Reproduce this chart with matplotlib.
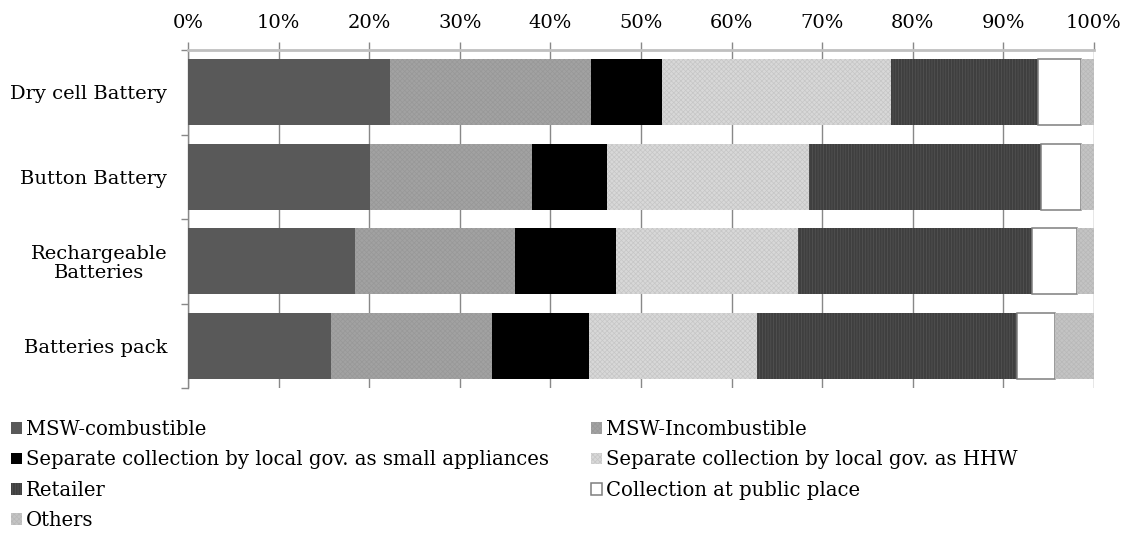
import matplotlib
matplotlib.use("Agg")
import matplotlib.pyplot as plt
from matplotlib.patches import Patch
from matplotlib.ticker import FixedLocator, PercentFormatter
import numpy as np

plt.rcParams['font.family'] = ['DejaVu Serif']
plt.rcParams['hatch.linewidth'] = 0.5

categories = ["Dry cell Battery", "Button Battery", "Rechargeable\nBatteries", "Batteries pack"]

series_names = [
    "MSW-combustible",
    "MSW-Incombustible",
    "Separate collection by local gov. as small appliances",
    "Separate collection by local gov. as HHW",
    "Retailer",
    "Collection at public place",
    "Others",
]

msw_combustible = [22.3, 20.1, 18.4, 15.8]
msw_incombustible = [22.2, 17.9, 17.7, 17.8]
small_appliances = [7.8, 8.2, 11.1, 10.7]
hhw = [25.3, 22.3, 20.1, 18.5]
retailer = [16.2, 25.6, 25.9, 28.7]
public_place = [4.8, 4.5, 4.9, 4.2]
others = [1.4, 1.4, 1.9, 4.3]

series_values = [msw_combustible, msw_incombustible, small_appliances, hhw,
                 retailer, public_place, others]

# (facecolor, hatch colour / edge, hatch, edge linewidth)
styles = [
    ("#595959", "#595959", None, 0.0),
    ("#a2a2a2", "#989898", "xxxxxxx", 0.0),
    ("#000000", "#000000", None, 0.0),
    ("#d8d8d8", "#c6c6c6", "xxxxxxx", 0.0),
    ("#3f3f3f", "#555555", "||||||", 0.0),
    ("#ffffff", "#7f7f7f", None, 1.1),
    ("#c4c4c4", "#b8b8b8", "xxxxxxx", 0.0),
]

fig = plt.figure(figsize=(11.29, 5.39), dpi=100)
ax = fig.add_axes([188 / 1129, 1 - 388 / 539, (1094 - 188) / 1129, (388 - 50) / 539])

y = np.arange(len(categories))
left = np.zeros(len(categories))
handles = []
for name, vals, (fc, ec, hatch, lw) in zip(series_names, series_values, styles):
    vals = np.array(vals)
    ax.barh(y, vals, left=left, height=0.78, color=fc, edgecolor=ec,
            hatch=hatch, linewidth=lw, zorder=3)
    left += vals
    handles.append(Patch(facecolor=fc, edgecolor=ec if lw > 0 or hatch else fc,
                         hatch=hatch, linewidth=lw if lw > 0 else 0.0, label=name))

ax.set_xlim(0, 100)
ax.set_ylim(len(categories) - 0.5, -0.5)

ax.xaxis.tick_top()
ax.set_xticks(np.arange(0, 101, 10))
ax.xaxis.set_major_formatter(PercentFormatter(decimals=0))
ax.tick_params(axis="x", which="major", length=6, width=1, color="#888888",
               pad=7, labelsize=14)
ax.grid(axis="x", color="#888888", linewidth=1, zorder=0)
ax.set_axisbelow(True)

ax.set_yticks(y)
ax.set_yticklabels(categories, fontsize=14, linespacing=1.05)
for lbl in ax.get_yticklabels():
    lbl.set_multialignment("center")
ax.tick_params(axis="y", which="major", length=0, pad=15)
ax.yaxis.set_minor_locator(FixedLocator(np.arange(-0.5, len(categories), 1.0)))
ax.tick_params(axis="y", which="minor", length=5, width=1, color="#888888")

for side in ("right", "bottom"):
    ax.spines[side].set_visible(False)
ax.spines["top"].set_color("#c0c0c0")
ax.spines["top"].set_linewidth(2)
ax.spines["left"].set_color("#888888")
ax.spines["left"].set_linewidth(1)

legend_kw = dict(frameon=False, fontsize=14.1, handlelength=0.55, handleheight=0.55,
                 handletextpad=0.2, labelspacing=0.58, borderaxespad=0, borderpad=0)
fig.legend(handles=[handles[i] for i in (0, 2, 4, 6)], loc="upper left",
           bbox_to_anchor=(11 / 1129, 1 - 420 / 539), **legend_kw)
fig.legend(handles=[handles[i] for i in (1, 3, 5)], loc="upper left",
           bbox_to_anchor=(591 / 1129, 1 - 420 / 539), **legend_kw)

fig.savefig("out.png", dpi=100)
